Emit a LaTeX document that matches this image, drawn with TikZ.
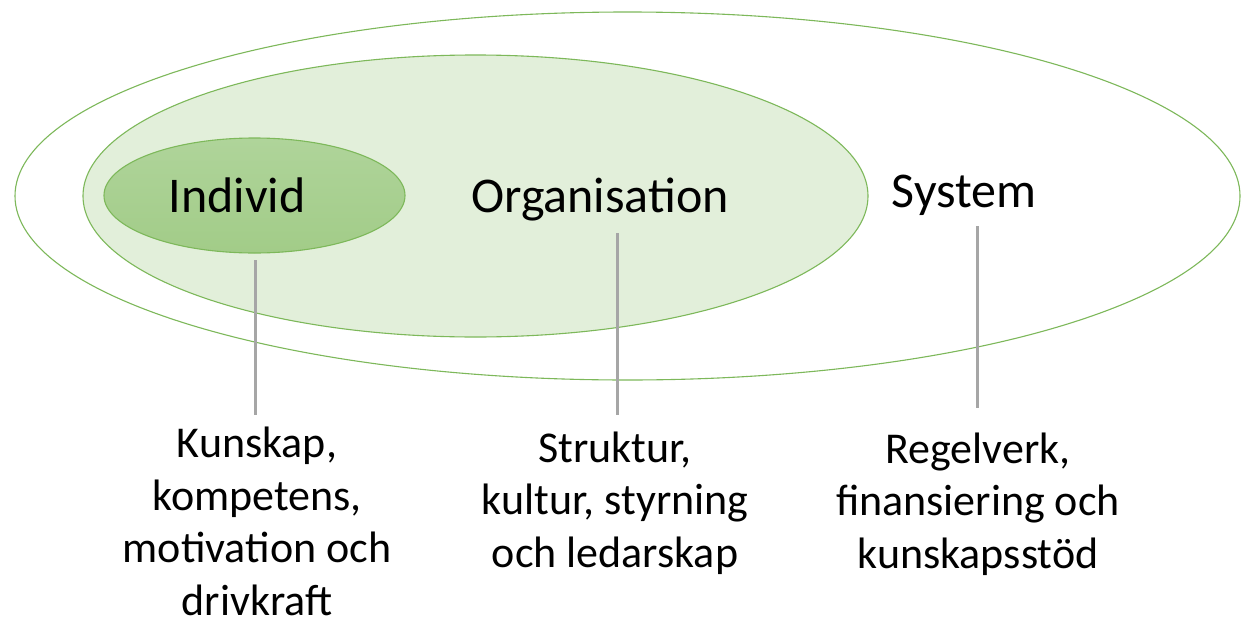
\documentclass[tikz,border=0pt]{standalone}
\usepackage{fontspec}
\setmainfont{Carlito}
\definecolor{edgegreen}{HTML}{7DB85A}
\definecolor{midfill}{HTML}{E2EFDA}
\definecolor{intop}{HTML}{AFD49A}
\definecolor{inbot}{HTML}{A2CC88}
\definecolor{leadgray}{HTML}{A6A6A6}
\tikzset{
  ring/.style={draw=edgegreen, line width=1.1pt},
  heading/.style={anchor=base, inner sep=0pt, font=\fontsize{50}{60}\selectfont},
  caption/.style={anchor=base, inner sep=0pt, align=center, font=\fontsize{44}{52.5}\selectfont},
  leader/.style={draw=leadgray, line width=3pt}
}
\begin{document}
\begin{tikzpicture}[x=1pt,y=-1pt]
\useasboundingbox (0,0) rectangle (1245,624);
% ellipses
\draw[ring, fill=white] (627.5,196) ellipse [x radius=612.5pt, y radius=184pt];
\draw[ring, fill=midfill] (475.5,196) ellipse [x radius=392.5pt, y radius=141pt];
\draw[ring, top color=intop, bottom color=inbot] (254.5,195.5) ellipse [x radius=150.5pt, y radius=57.5pt];
% headings
\node[heading] (ind) at (237,212) {Individ};
\node[heading] (org) at (600,212) {Organisation};
\node[heading] (sys) at (964,207) {System};
% captions (base anchor = baseline of the last line)
\node[caption] (capA) at (257,615) {Kunskap,\\kompetens,\\motivation och\\drivkraft};
\node[caption] (capB) at (615,567) {Struktur,\\kultur, styrning\\och ledarskap};
\node[caption] (capC) at (978,568) {Regelverk,\\finansiering och\\kunskapsstöd};
% leader ends
\coordinate (a1) at (255,260);
\coordinate (a2) at (255,415);
\coordinate (b1) at (617,233);
\coordinate (b2) at (617,415);
\coordinate (c1) at (977,226);
\coordinate (c2) at (977,408);
\draw[leader] (a1) -- (a2);
\draw[leader] (b1) -- (b2);
\draw[leader] (c1) -- (c2);
\end{tikzpicture}
\end{document}
